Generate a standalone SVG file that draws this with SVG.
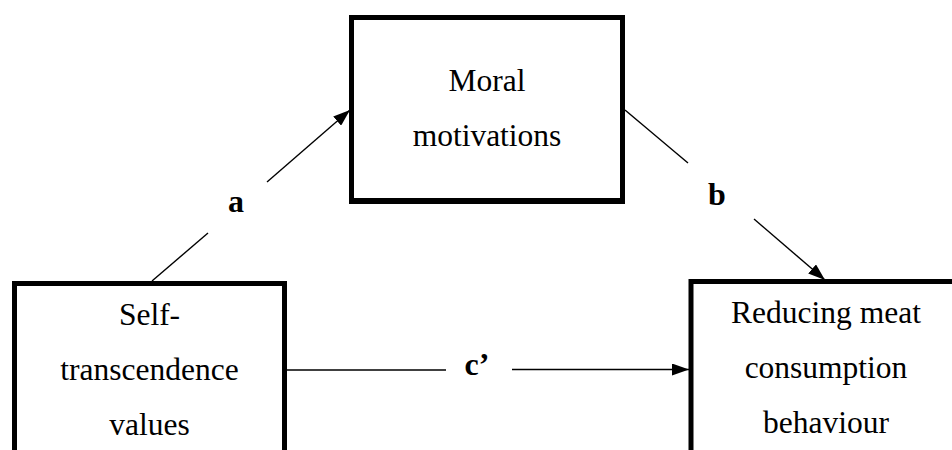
<svg xmlns="http://www.w3.org/2000/svg" width="952" height="450" viewBox="0 0 952 450">
<style>
.box{fill:#fff;stroke:#000;stroke-width:5}
.t{font-family:"Liberation Serif","Times New Roman",serif;font-size:31.5px;fill:#000;text-anchor:middle}
.lb{font-family:"Liberation Serif","Times New Roman",serif;font-size:32px;font-weight:bold;fill:#000;text-anchor:middle}
.c{stroke:#000;stroke-width:1.4;fill:none}
</style>
<defs>
<marker id="ah" markerUnits="userSpaceOnUse" markerWidth="18" markerHeight="12" refX="17" refY="6" orient="auto">
<path d="M0,0 L17,6 L0,12 Z" fill="#000"/>
</marker>
</defs>
<rect width="952" height="450" fill="#fff"/>
<g id="moral">
<rect class="box" x="351.5" y="17.5" width="271" height="183"/>
<line x1="349" y1="201" x2="625" y2="201" stroke="#000" stroke-width="6"/>
<text class="t" x="487" y="91">Moral</text>
<text class="t" x="487" y="146">motivations</text>
</g>
<g id="self">
<rect class="box" x="14.5" y="283.5" width="270" height="200"/>
<text class="t" x="149.5" y="325">Self-</text>
<text class="t" x="149.5" y="380">transcendence</text>
<text class="t" x="149.5" y="435">values</text>
</g>
<g id="reducing">
<rect class="box" x="691" y="281.5" width="272" height="200"/>
<text class="t" x="826" y="323">Reducing meat</text>
<text class="t" x="826" y="378">consumption</text>
<text class="t" x="826" y="433">behaviour</text>
</g>
<g id="connectors">
<line class="c" x1="152" y1="281" x2="208" y2="233"/>
<line class="c" x1="267" y1="182" x2="350" y2="110" marker-end="url(#ah)"/>
<text class="lb" x="236" y="212">a</text>
<line class="c" x1="625" y1="110" x2="688" y2="163"/>
<line class="c" x1="754" y1="219" x2="825" y2="280" marker-end="url(#ah)"/>
<text class="lb" x="717" y="205">b</text>
<line class="c" x1="287" y1="370" x2="446" y2="370"/>
<line class="c" x1="512" y1="369.5" x2="689" y2="369.5" marker-end="url(#ah)"/>
<text class="lb" x="477" y="375">c’</text>
</g>
</svg>
